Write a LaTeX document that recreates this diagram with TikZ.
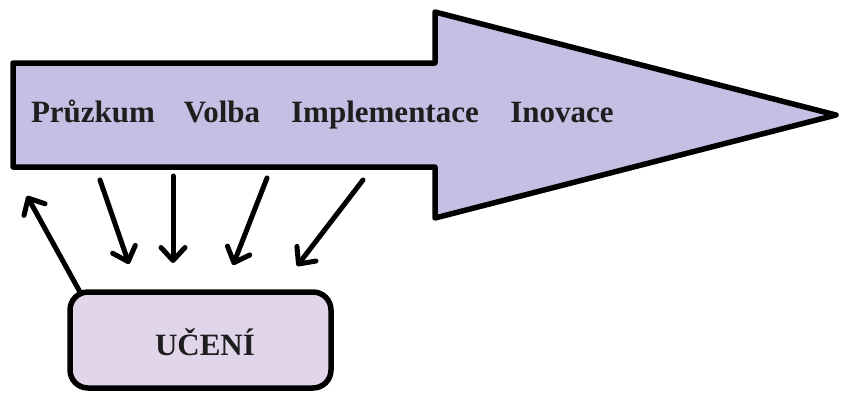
\documentclass[tikz,border=0pt]{standalone}
\usepackage{fontspec}
\setmainfont{Liberation Serif}
\usetikzlibrary{arrows.meta}
\definecolor{arrowfill}{RGB}{198,191,228}
\definecolor{boxfill}{RGB}{225,213,234}
\definecolor{txt}{RGB}{30,30,30}
\tikzset{
  outline/.style={draw=black,line width=5.5pt},
  word/.style={font=\fontsize{31}{36}\selectfont\bfseries,text=txt,inner sep=0pt,anchor=base},
  feed/.style={draw=black,line width=5pt,line cap=round,
    -{Straight Barb[length=13pt,width=24pt,round]}}
}
\begin{document}
\begin{tikzpicture}[x=1pt,y=-1pt]
\useasboundingbox (0,0) rectangle (841,392);
% big arrow
\draw[outline,fill=arrowfill,line join=round]
  (13,63) -- (435,63) -- (435,12) -- (836,115) -- (435,218) -- (435,167) -- (13,167) -- cycle;
\node[word] (w1) at (93,122) {Průzkum};
\node[word] (w2) at (222,122) {Volba};
\node[word] (w3) at (385,122) {Implementace};
\node[word] (w4) at (562,122) {Inovace};
% learning box
\node[outline,fill=boxfill,rounded corners=18pt,minimum width=261pt,minimum height=96pt,inner sep=0pt] (learn) at (200.5,340) {};
\node[word] (lt) at (205,355) {UČENÍ};
% connectors
\coordinate (s0) at (80,292);
\coordinate (e0) at (27,196);
\coordinate (s1) at (100,180);
\coordinate (e1) at (129,264);
\coordinate (s2) at (173,176);
\coordinate (e2) at (173,263);
\coordinate (s3) at (267,178);
\coordinate (e3) at (233,265);
\coordinate (s4) at (363,180);
\coordinate (e4) at (297,266);
\draw[feed] (s0) -- (e0);
\draw[feed] (s1) -- (e1);
\draw[feed] (s2) -- (e2);
\draw[feed] (s3) -- (e3);
\draw[feed] (s4) -- (e4);
\end{tikzpicture}
\end{document}
